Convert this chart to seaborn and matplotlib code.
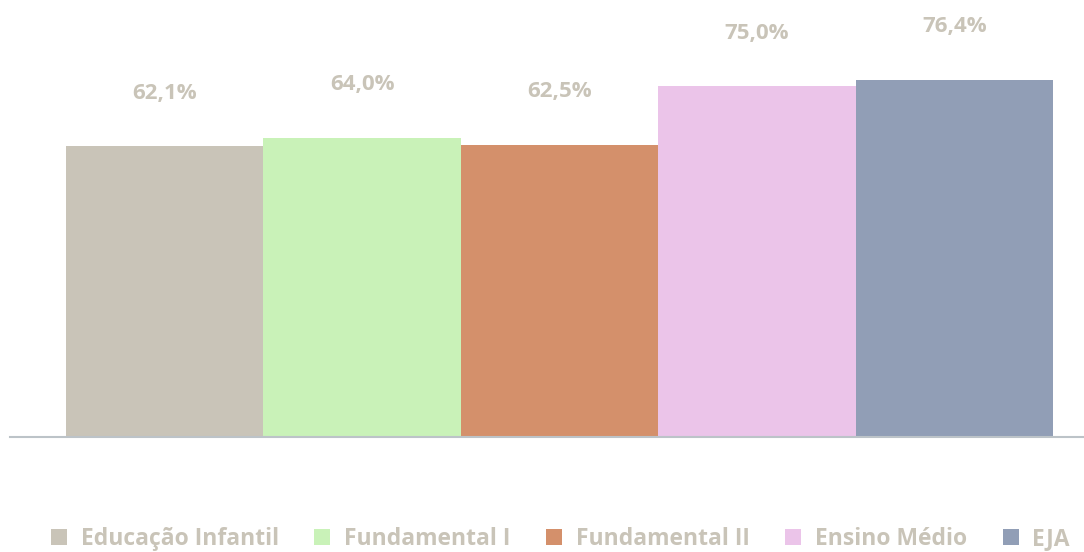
import matplotlib
matplotlib.use("Agg")
import matplotlib.pyplot as plt
import seaborn as sns
import pandas as pd
from matplotlib.patches import Patch

categories = ["Educação Infantil", "Fundamental I", "Fundamental II", "Ensino Médio", "EJA"]
values = [62.1, 64.0, 62.5, 75.0, 76.4]
labels = ["62,1%", "64,0%", "62,5%", "75,0%", "76,4%"]
colors = ["#c9c4b8", "#c9f2b8", "#d4906b", "#ebc4e9", "#919eb6"]

text_color = "#c9c4b8"

sns.set_style("white")
plt.rcParams["font.family"] = ["Open Sans", "DejaVu Sans"]

df = pd.DataFrame({"categoria": categories, "valor": values})

fig = plt.figure(figsize=(10.84, 5.52), dpi=100)
ax = fig.add_axes([10 / 1084, 115 / 552, 1074 / 1084, 437 / 552])

sns.barplot(data=df, x="categoria", y="valor", hue="categoria", palette=colors,
            width=1.0, legend=False, ax=ax, saturation=1, linewidth=0)

ax.set_xlim(-0.784, 4.657)
ax.set_ylim(0, 93.4)

for i, (v, lab) in enumerate(zip(values, labels)):
    ax.annotate(lab, (i, v), xytext=(0, 38), textcoords="offset points",
                ha="center", va="center", fontsize=16, fontweight="bold",
                color=text_color)

for s in ["top", "right", "left"]:
    ax.spines[s].set_visible(False)
ax.spines["bottom"].set_color("#bcc3c8")
ax.spines["bottom"].set_linewidth(1.5)
ax.set_xticks([])
ax.set_yticks([])
ax.set_xlabel("")
ax.set_ylabel("")

handles = [Patch(facecolor=c, edgecolor="none") for c in colors]
leg = fig.legend(handles, categories, loc="center", bbox_to_anchor=(0.517, 13 / 552),
                 ncol=5, frameon=False, fontsize=16.5, handlelength=0.7, handleheight=0.7,
                 handletextpad=0.6, columnspacing=1.55)
for t in leg.get_texts():
    t.set_color(text_color)
    t.set_fontweight("bold")

fig.savefig("out.png", dpi=100)
